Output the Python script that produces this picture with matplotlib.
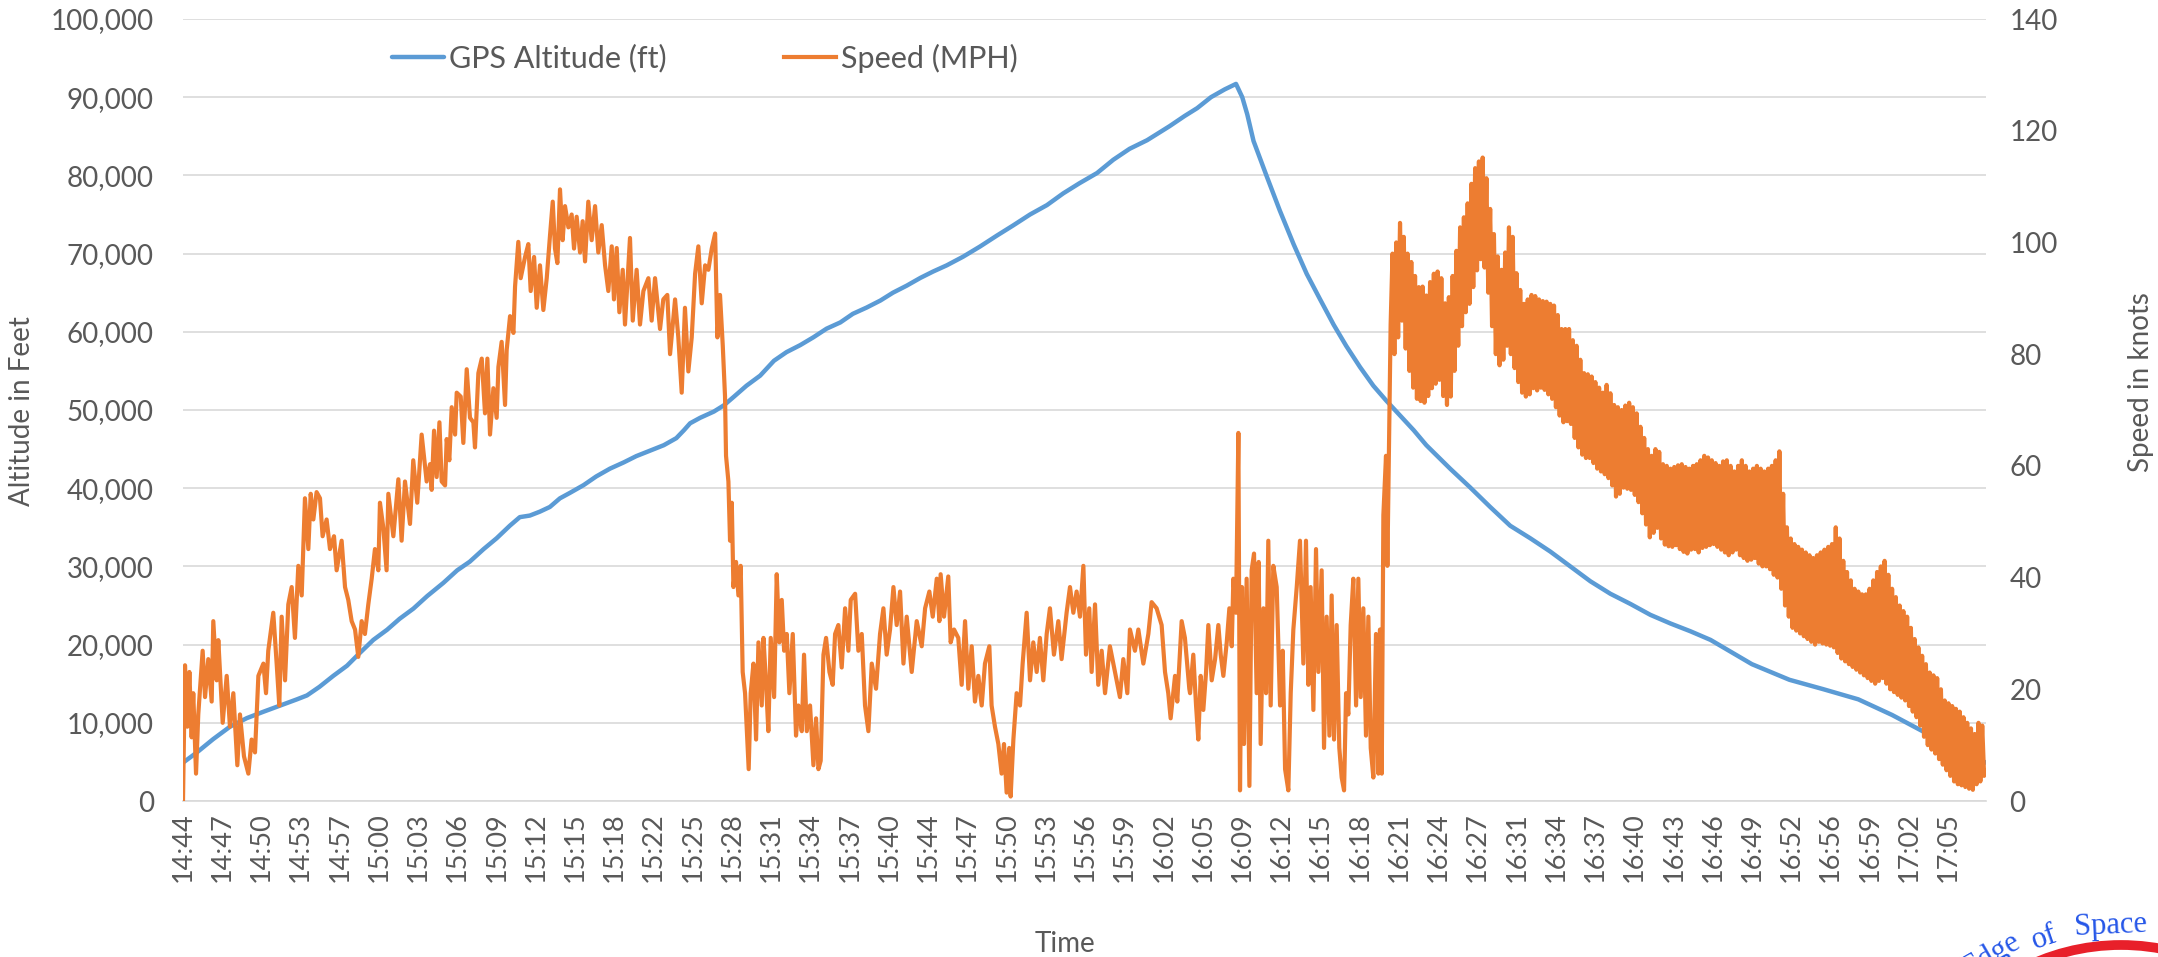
import numpy as np
import matplotlib
matplotlib.use("Agg")
import matplotlib.pyplot as plt
from matplotlib.patches import Arc

plt.rcParams['font.family'] = ['Lato', 'DejaVu Sans']

# ---------------- data ----------------
tick_labels = ["14:44", "14:47", "14:50", "14:53", "14:57", "15:00", "15:03", "15:06", "15:09", "15:12",
               "15:15", "15:18", "15:22", "15:25", "15:28", "15:31", "15:34", "15:37", "15:40", "15:44",
               "15:47", "15:50", "15:53", "15:56", "15:59", "16:02", "16:05", "16:09", "16:12", "16:15",
               "16:18", "16:21", "16:24", "16:27", "16:31", "16:34", "16:37", "16:40", "16:43", "16:46",
               "16:49", "16:52", "16:56", "16:59", "17:02", "17:05"]
tick_step_min = 141.0 / 45.0          # minutes between labelled categories
x_end_min = 144.0                     # last sample (minutes after 14:44)

# GPS altitude (ft) vs minutes after 14:44
alt_t = [0, 1.1, 2.4, 3.75, 5.1, 6.4, 7.75, 9.1, 9.9, 10.9, 12.0, 13.1, 14.1, 15.2, 16.3, 17.3, 18.4,
         19.5, 20.8, 21.9, 22.9, 24.0, 25.05, 26.1, 26.9, 27.7, 28.5, 29.3, 30.1, 30.9, 32.0, 33.0, 34.1,
         35.2, 36.2, 37.3, 38.4, 39.4, 40.0, 40.5, 41.3, 42.4, 43.2, 44.0, 45.0, 46.1, 47.2, 48.2, 49.3,
         50.35, 51.4, 52.5, 53.5, 54.6, 55.7, 56.7, 57.8, 58.9, 59.9, 61.0, 62.3, 63.65, 65.0, 66.3, 67.65,
         69.0, 70.3, 71.6, 73.0, 74.3, 75.6, 77.0, 78.8, 80.0, 81.0, 82.1, 83.2, 84.1, 84.6, 85.0, 85.5,
         86.55, 87.6, 88.7, 89.75, 90.8, 91.9, 92.9, 94.0, 95.07, 96.1, 97.2, 98.3, 99.3, 101.2, 102.8,
         104.4, 106.0, 107.6, 109.2, 110.8, 112.4, 114.0, 115.6, 117.2, 118.8, 120.4, 122.0, 125.3, 128.3,
         131.0, 133.8, 136.5, 139.2, 141.9, 144.0]
alt_ft = [4900, 6200, 7900, 9500, 10600, 11400, 12200, 13000, 13500, 14600, 16000, 17300, 18900, 20600,
          21900, 23300, 24600, 26200, 27900, 29500, 30600, 32200, 33600, 35200, 36300, 36500, 37000, 37600,
          38700, 39400, 40400, 41500, 42500, 43300, 44100, 44800, 45500, 46400, 47400, 48300, 49000, 49800,
          50600, 51700, 53100, 54400, 56300, 57400, 58300, 59300, 60400, 61200, 62300, 63100, 64000, 65000,
          65900, 66900, 67700, 68500, 69600, 70900, 72300, 73600, 75000, 76200, 77700, 79000, 80300, 82000,
          83400, 84500, 86300, 87600, 88600, 90000, 91000, 91700, 90000, 87800, 84400, 79900, 75500, 71200,
          67400, 64200, 60900, 58200, 55500, 53100, 51200, 49300, 47400, 45500, 42500, 40100, 37600, 35200,
          33600, 31900, 30000, 28100, 26500, 25200, 23800, 22700, 21700, 20600, 17500, 15500, 14300, 13000,
          11000, 8700, 6400, 4900]

# Speed (knots) – individually read samples, minutes after 14:44
speed_t = [0.0, 0.16, 0.35, 0.51, 0.69, 0.82, 1.04, 1.22, 1.57, 1.76, 2.02, 2.29, 2.42, 2.69, 2.82, 3.17,
           3.49, 3.75, 4.02, 4.34, 4.55, 4.87, 5.22, 5.48, 5.75, 6.02, 6.42, 6.63, 6.81, 7.21, 7.48, 7.69,
           7.88, 8.15, 8.41, 8.68, 8.94, 9.21, 9.48, 9.74, 10.01, 10.20, 10.41, 10.67, 10.94, 11.15, 11.47,
           11.74, 12.06, 12.27, 12.67, 12.94, 13.20, 13.47, 13.74, 14.00, 14.27, 14.53, 14.80, 15.07, 15.33,
           15.60, 15.73, 16.00, 16.26, 16.40, 16.80, 17.20, 17.46, 17.73, 18.13, 18.39, 18.71, 19.06, 19.46,
           19.73,
           19.86, 20.05, 20.26, 20.48, 20.66, 20.93, 21.06, 21.27, 21.46, 21.73, 21.86, 22.18, 22.39, 22.66,
           22.92, 23.19, 23.32, 23.59, 23.86, 24.12, 24.31, 24.52, 24.79, 25.05, 25.19, 25.45, 25.72, 25.85,
           26.12, 26.39, 26.52, 26.78, 26.97, 27.32, 27.58, 27.77, 28.04, 28.25, 28.51, 28.78, 29.05, 29.31,
           29.53, 29.71, 29.90, 30.11, 30.32, 30.51, 30.78, 31.04, 31.23, 31.44, 31.71, 31.92, 32.11, 32.37,
           32.64, 32.91, 33.17, 33.44, 33.71, 33.97, 34.24, 34.42, 34.64, 34.85, 35.12, 35.30, 35.70, 35.92,
           36.23, 36.50, 36.77, 37.17, 37.43, 37.70, 38.10, 38.36, 38.68, 38.90, 39.30, 39.56, 39.83, 40.09,
           40.36,
           40.63, 40.90, 41.16, 41.43, 41.70, 41.96, 42.23, 42.50, 42.68, 42.89, 43.11, 43.29, 43.37, 43.56,
           43.69, 43.83, 43.96, 44.17, 44.36, 44.54, 44.70, 44.89, 45.02, 45.18, 45.34, 45.56, 45.77, 45.96,
           46.22, 46.36, 46.57, 46.75, 46.94, 47.21, 47.42, 47.63, 47.82, 48.01, 48.22, 48.43, 48.70, 48.96,
           49.15, 49.42, 49.60, 49.82, 50.08, 50.35, 50.56, 50.75, 50.93, 51.15, 51.36, 51.63, 51.89, 52.08,
           52.34, 52.61, 52.88, 53.14, 53.33, 53.68, 53.94, 54.21, 54.47, 54.74, 55.01, 55.35, 55.67, 55.94,
           56.20, 56.47, 56.74, 57.00, 57.27, 57.54, 57.80, 58.20, 58.60, 59.00, 59.27, 59.61, 59.88, 60.20,
           60.41,
           60.51, 60.78, 61.12, 61.31, 61.58, 61.92, 62.19, 62.46, 62.72, 62.99, 63.25, 63.52, 63.79, 64.05,
           64.40, 64.58, 64.85, 65.12, 65.38, 65.57, 65.78, 65.99, 66.10, 66.32, 66.58, 66.85, 67.06, 67.38,
           67.65, 67.91, 68.18, 68.44, 68.71, 68.98, 69.24, 69.56, 69.91, 70.17, 70.57, 70.84, 71.11, 71.37,
           71.64, 71.91, 72.12, 72.38, 72.57, 72.84, 73.10, 73.37, 73.64, 74.03, 74.43, 74.83, 75.10, 75.42,
           75.63, 76.03, 76.30, 76.70, 77.10, 77.36, 77.76, 78.16, 78.43, 78.69, 78.88, 79.23, 79.41, 79.76,
           80.02, 80.37,
           80.43, 80.69, 80.91, 81.09, 81.28, 81.49, 81.71, 81.89, 82.16, 82.43, 82.69, 82.88, 83.09, 83.36,
           83.57, 83.76, 83.89, 84.10, 84.29, 84.42, 84.58, 84.74, 84.95, 85.17, 85.35, 85.54, 85.75, 85.91,
           86.07, 86.29, 86.50, 86.68, 86.87, 87.08, 87.35, 87.62, 87.83, 88.02, 88.28, 88.47, 88.68, 88.95,
           89.21, 89.48, 89.69, 89.88, 90.06, 90.28, 90.49, 90.68, 90.94, 91.13, 91.34, 91.56, 91.74, 91.93,
           92.14, 92.35, 92.54, 92.73, 92.89, 93.07, 93.26, 93.47, 93.69, 93.87, 94.06, 94.27, 94.48, 94.67,
           94.86, 95.07, 95.28, 95.47, 95.60, 95.74, 95.87, 96.08, 96.19, 96.35, 96.45]
speed_kn = [0, 24.3, 13.3, 23.1, 11.4, 19.3, 4.9, 15.5, 26.9, 18.6, 25.4, 17.8, 32.2, 21.6, 28.8, 14.0,
            22.4, 13.3, 19.3, 6.4, 15.5, 8.0, 4.9, 11.0, 8.7, 22.4, 24.6, 19.3, 26.9, 33.7, 24.6, 17.1,
            33.0, 21.6, 35.2, 38.3, 29.2, 42.1, 36.8, 54.2, 45.1, 55.0, 50.4, 55.3, 54.2, 47.4, 50.4,
            45.1, 47.4, 41.3, 46.6, 38.3, 36.0, 32.2, 30.7, 25.8, 32.2, 29.9, 35.2, 39.8, 45.1,
            41.3, 53.4, 48.9, 41.3, 55.0, 47.4, 57.6, 46.6, 57.2, 49.6, 61.0, 53.4, 65.6, 57.2,
            60.3,
            55.7, 66.3, 58.0, 67.8, 57.2, 56.5, 64.8, 61.0, 70.5, 65.6, 73.1, 72.4, 64.1, 77.3,
            68.6, 67.8, 63.3, 76.6, 79.2, 69.4, 79.2, 65.6, 73.9, 68.6, 77.7, 82.2, 70.9, 80.7,
            86.8, 83.8, 92.1, 100.1, 93.6, 97.4, 99.7, 91.3, 97.4, 88.3, 95.9, 87.9, 93.6, 101.2,
            107.3, 98.9, 96.3, 109.5, 100.4, 106.5, 102.7, 105.0, 98.9, 104.6, 98.2, 103.8, 96.6, 107.3,
            100.4, 106.5, 98.2, 103.1, 95.9, 91.3, 99.3, 89.8, 99.0, 87.5, 95.1, 85.3, 100.8, 86.0,
            95.1, 85.3, 91.3, 93.6, 86.0, 93.6, 84.5, 89.8, 90.6, 80.0, 89.8, 83.0, 73.1, 88.3,
            76.9,
            83.0, 94.4, 99.3, 89.1, 95.9, 95.1, 98.9, 101.6, 83.0, 90.6, 81.5, 72.4, 61.8, 57.2,
            46.6, 53.4, 38.3, 42.8, 36.8, 42.1, 23.1, 19.3, 13.3, 5.7, 19.3, 24.6, 11.0, 28.4,
            17.1, 29.2, 20.8, 12.5, 29.2, 18.6, 40.6, 28.4, 36.0, 26.9, 29.9, 19.3, 29.9, 11.7,
            17.1, 12.5, 26.2, 12.5, 17.1, 6.4, 14.8, 5.7, 7.2, 26.2, 29.2, 23.1, 20.8, 29.9,
            31.5, 23.9, 34.5, 26.9, 36.0, 37.1, 26.9, 29.9, 17.1, 12.5, 24.6, 20.1, 29.9, 34.5,
            26.2, 30.7, 38.3, 31.5, 37.5, 24.6, 33.0, 23.1, 32.2, 27.7, 34.5, 37.5, 33.0, 39.8,
            32.2,
            40.6, 33.0, 40.2, 28.4, 30.7, 29.2, 20.8, 32.2, 20.1, 27.7, 17.8, 22.4, 17.1, 24.6,
            27.7, 17.1, 13.3, 10.2, 4.9, 10.2, 1.5, 9.5, 0.8, 11.0, 19.3, 17.1, 24.6, 33.7,
            21.6, 28.4, 23.1, 29.2, 21.6, 29.9, 34.5, 26.2, 32.2, 25.4, 33.7, 38.3, 33.7, 37.5,
            33.0, 42.1, 26.2, 34.5, 23.1, 35.2, 20.8, 26.9, 19.3, 27.7, 23.1, 18.6, 25.4, 19.3,
            30.7, 26.9, 30.7, 24.6, 29.9, 35.6, 34.5, 31.5, 23.1, 19.3, 14.8, 22.4, 17.8, 32.2,
            29.2, 20.1,
            19.3, 26.2, 17.1, 11.0, 22.4, 16.3, 23.1, 31.5, 21.6, 25.4, 31.5, 26.2, 22.4, 28.4,
            34.5, 27.7, 39.8, 33.7, 65.9, 1.9, 38.3, 10.2, 39.8, 2.7, 41.3, 44.3, 19.3, 42.8,
            10.2, 34.5, 19.3, 46.6, 17.1, 42.1, 38.3, 17.1, 26.9, 5.7, 1.9, 19.3, 30.7, 38.3,
            46.6, 24.6, 46.6, 20.8, 38.3, 16.3, 45.1, 23.1, 41.3, 9.5, 33.0, 11.7, 36.8, 11.0,
            31.5, 9.5, 4.2, 1.9, 19.3, 15.5, 31.5, 39.8, 17.1, 39.8, 18.6, 34.5, 11.7, 33.0,
            9.5, 4.2, 29.9, 4.9, 30.7, 4.9, 51.2, 61.8, 42.1, 69.4, 85.3]

# Speed (knots) – dense oscillating section, one sample every 0.15 min from 96.6 min
band_start_min = 96.6
band_step_min = 0.15
band_kn = [98, 80, 100, 83, 103.5, 86, 101, 81, 98, 77, 96.5, 74, 94, 72, 92, 71.6,
           92.1, 71.3, 90.5, 72.5, 92.9, 73.9, 94.4, 74.7, 94.8, 75.4, 93.6, 72.5, 89.1, 70.9,
           90.2, 72.4, 94, 77, 98.5, 81.5, 102.7, 85, 104.5, 87.5, 107, 89, 110.5, 92, 113.3, 95,
           114.5, 97, 115.2, 95.5, 111.5, 91, 106, 85, 101.5, 80, 97.5, 78, 95.1, 79, 98.2, 81.5,
           102.7, 80, 101, 77.5, 94.5, 75, 91.5, 73.1, 89, 72.4, 89.8, 72.8, 90.6, 73.9, 90.4, 73.5,
           89.8, 74, 89.5, 73.6, 89.4, 72.8, 89, 72, 88.7, 70.5, 87, 69, 84.5, 67.8, 84.5, 68,
           84.5, 67.5, 82.5, 65, 81.5, 63.3, 79, 62, 76.6, 61.4, 76.4, 61.4, 76, 60.5, 75, 59.5,
           74, 59, 73.1, 58.5, 74.5, 57.8, 73, 56.5, 70.9, 54.5, 70.5, 55, 70, 56.1, 70.8, 55.9,
           71.3, 55.7, 70.5, 54.8, 69.4, 53.5, 67, 51.5, 65, 49.5, 63, 47.2, 61.8, 48, 63, 48.9,
           62.5, 47, 60.3, 45.9, 60, 45.6, 59.5, 45.5, 59.8, 45.8, 60.1, 45.1, 60.3, 44.6, 59.8, 44.3,
           59.5, 45, 60, 45.1, 60.3, 44.5, 61, 45.3, 61.8, 45.5, 61.5, 45.8, 61, 46, 60.5, 45.5,
           60, 45, 60.8, 44.5, 61, 44, 60, 44.5, 59, 45, 60, 44, 61, 43.5, 60, 43,
           59, 43.2, 59.5, 43.5, 60, 42.5, 59.5, 42, 59, 42, 59.5, 41.5, 60, 40.5, 61, 40,
           62.6, 38, 55, 35, 49, 33, 47, 31, 46, 30.5, 45.5, 30, 45, 29.5, 44.5, 29,
           44, 28.5, 43.5, 28, 44, 28.5, 44.5, 28.2, 45, 28, 45.5, 27.8, 46, 27.5, 49, 26.5,
           47, 25.5, 43, 25, 41, 24.5, 39.5, 24, 38, 23.5, 37.5, 23, 37, 22.5, 37, 22,
           38, 21.5, 39.5, 21, 41, 21.5, 42, 22, 43, 21, 40.5, 20, 38, 19.5, 36.5, 19,
           35, 18.5, 34, 18, 33, 17, 31, 16, 29, 15, 27.5, 13.5, 26, 11.5, 24.5, 10,
           23, 9.2, 22.5, 8.5, 22, 7.5, 20, 6.5, 18, 5.5, 17.5, 4.5, 17, 3.5, 16.5, 3,
           16, 2.8, 15, 2.5, 14, 2.2, 13, 2, 12, 3, 14, 3.5, 13.5, 4.5, 5.4]

alt_ticks = [0, 10000, 20000, 30000, 40000, 50000, 60000, 70000, 80000, 90000, 100000]
speed_ticks = [0, 20, 40, 60, 80, 100, 120, 140]

# ---------------- figure ----------------
W, H = 2158, 957
fig = plt.figure(figsize=(W / 100, H / 100), dpi=100)
L, R, T, B = 183, 1986, 19, 801
ax = fig.add_axes([L / W, 1 - B / H, (R - L) / W, (B - T) / H])

gray_txt = '#595959'
grid_c = '#D9D9D9'
blue = '#5B9BD5'
orange = '#ED7D31'

band_t = band_start_min + band_step_min * np.arange(len(band_kn))
sp_t = np.concatenate([np.array(speed_t), band_t])
sp_v = np.concatenate([np.array(speed_kn), np.array(band_kn)])

h1, = ax.plot(alt_t, alt_ft, color=blue, lw=3.2, solid_joinstyle='round', solid_capstyle='round', zorder=3)
ax.set_xlim(0, x_end_min)
ax.set_ylim(0, 100000)
ax.set_yticks(alt_ticks)
ax.set_yticklabels([f"{v:,}" for v in alt_ticks])
ax.set_xticks(np.arange(len(tick_labels)) * tick_step_min)
ax.set_xticklabels(tick_labels, rotation=90, ha='center', va='top')
ax.yaxis.grid(True, color=grid_c, lw=1.2)
ax.set_axisbelow(True)
for s in ['top', 'right', 'left']:
    ax.spines[s].set_visible(False)
ax.spines['bottom'].set_color(grid_c)
ax.spines['bottom'].set_linewidth(1.2)
ax.tick_params(axis='y', length=0, pad=21, labelsize=20, labelcolor=gray_txt)
ax.tick_params(axis='x', length=0, pad=8, labelsize=19.5, labelcolor=gray_txt)

ax2 = ax.twinx()
h2, = ax2.plot(sp_t, sp_v, color=orange, lw=3.0, solid_joinstyle='round', zorder=3)
ax2.set_ylim(0, 140)
ax2.set_yticks(speed_ticks)
for s in ax2.spines.values():
    s.set_visible(False)
ax2.tick_params(axis='y', length=0, pad=17, labelsize=20, labelcolor=gray_txt)

# axis titles
fig.text(22 / W, 1 - 411 / H, 'Altitude in Feet', rotation=90, ha='center', va='center',
         fontsize=20, color=gray_txt)
fig.text(2141 / W, 1 - 382 / H, 'Speed in knots', rotation=90, ha='center', va='center',
         fontsize=20, color=gray_txt)
fig.text(1065 / W, 1 - 944 / H, 'Time', ha='center', va='center', fontsize=20, color=gray_txt)

# legend (two entries placed separately)
leg_kw = dict(loc='center left', bbox_transform=fig.transFigure, frameon=False, borderpad=0,
              borderaxespad=0, handlelength=1.7, handletextpad=0.15, fontsize=22, labelcolor=gray_txt)
leg1 = ax2.legend([h1], ['GPS Altitude (ft)'], bbox_to_anchor=(392 / W, 1 - 58 / H), **leg_kw)
ax2.add_artist(leg1)
ax2.legend([h2], ['Speed (MPH)'], bbox_to_anchor=(784 / W, 1 - 58 / H), **leg_kw)

# logo fragment (bottom-right corner, partly outside the canvas as in the original)
cx, cy = 2121, 1163
rr = 218
fig.add_artist(Arc((cx / W, 1 - cy / H), 2 * rr / W, 2 * rr / H, theta1=55, theta2=125,
                   transform=fig.transFigure, color='#E8202A', lw=7, clip_on=False))
logo_words = [('Edge', 1995, 962, 30), ('of', 2047, 945, 18.8), ('Space', 2111, 933, 2.6)]
for word, px, py, rot in logo_words:
    fig.text(px / W, 1 - py / H, word, rotation=rot, rotation_mode='anchor', ha='center',
             va='baseline', fontsize=22, color='#2556E8', family=['Liberation Serif', 'DejaVu Serif'])

fig.savefig('out.png', dpi=100)
